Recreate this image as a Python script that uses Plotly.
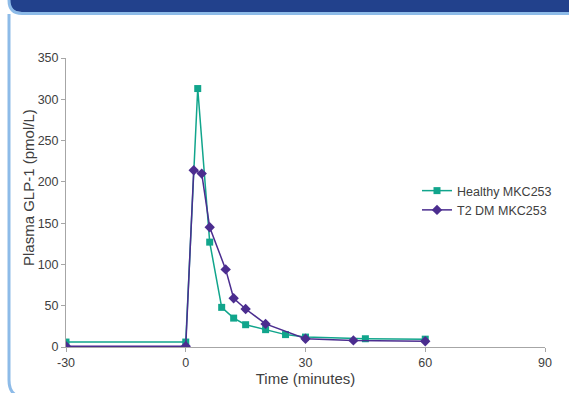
import plotly.graph_objects as go

# Data
healthy_time = [-30, 0, 3, 6, 9, 12, 15, 20, 25, 30, 45, 60]
healthy_glp1 = [6, 6, 313, 127, 48, 35, 27, 21, 15, 12, 10, 9.5]
t2dm_time = [-30, 0, 2, 4, 6, 10, 12, 15, 20, 30, 42, 60]
t2dm_glp1 = [1, 1, 214, 210, 145, 94, 59, 46, 28, 10, 8, 7]
x_ticks = [-30, 0, 30, 60, 90]
y_ticks = [0, 50, 100, 150, 200, 250, 300, 350]

W, H = 569, 393
ML, MR, MT, MB = 66, 24, 58, 46
PW = W - ML - MR
PH = H - MT - MB

def px(x):
    return (x - ML) / PW

def py(y):
    return (H - MB - y) / PH

teal = "#11A58C"
purple = "#4B2D8F"
lightblue = "#8DBBE8"
darkblue = "#22418C"

fig = go.Figure()
fig.add_trace(go.Scatter(
    x=healthy_time, y=healthy_glp1, name="Healthy MKC253", mode="lines+markers",
    line=dict(color=teal, width=1.5),
    marker=dict(symbol="square", size=7, color=teal),
))
fig.add_trace(go.Scatter(
    x=t2dm_time, y=t2dm_glp1, name="T2 DM MKC253", mode="lines+markers",
    line=dict(color=purple, width=1.5),
    marker=dict(symbol="diamond", size=8, color=purple),
))

# decorative frame
banner = (f"M {px(10)},{py(0)} L {px(569)},{py(0)} L {px(569)},{py(12)} "
          f"L {px(22)},{py(12)} Q {px(10)},{py(12)} {px(10)},{py(2)} Z")
banner_border = (f"M {px(569)},{py(13.5)} L {px(22)},{py(13.5)} "
                 f"Q {px(9)},{py(13.5)} {px(9)},{py(0)}")
left_border = (f"M {px(9)},{py(14)} L {px(9)},{py(380)} "
               f"Q {px(9)},{py(393)} {px(18)},{py(396)}")

shapes = [
    dict(type="path", xref="paper", yref="paper", path=banner,
         fillcolor=darkblue, line=dict(width=0), layer="below"),
    dict(type="path", xref="paper", yref="paper", path=banner_border,
         line=dict(color=lightblue, width=3), layer="below"),
    dict(type="path", xref="paper", yref="paper", path=left_border,
         line=dict(color=lightblue, width=3), layer="below"),
]

font_family = "Liberation Sans, Arial, sans-serif"

fig.update_layout(
    width=W, height=H, autosize=False,
    margin=dict(l=ML, r=MR, t=MT, b=MB, autoexpand=False),
    paper_bgcolor="white", plot_bgcolor="white",
    font=dict(family=font_family, size=12, color="#404040"),
    showlegend=True,
    legend=dict(x=px(417), y=py(176), xanchor="left", yanchor="top",
                font=dict(size=12.5, color="#404040"), bgcolor="rgba(0,0,0,0)",
                itemwidth=30),
    shapes=shapes,
    annotations=[dict(
        text="Plasma GLP-1 (pmol/L)", xref="paper", yref="paper",
        x=px(28), y=py(188), xanchor="center", yanchor="middle",
        textangle=-90, showarrow=False,
        font=dict(size=15, color="#404040"),
    )],
    xaxis=dict(
        range=[-30, 90], tickvals=x_ticks, ticktext=[str(v) for v in x_ticks],
        showgrid=False, zeroline=False, showline=True, linecolor="#A6A6A6",
        linewidth=1, ticks="outside", ticklen=4, tickcolor="#A6A6A6",
        tickfont=dict(size=12.5, color="#404040"),
        title=dict(text="Time (minutes)", font=dict(size=15, color="#404040"), standoff=2),
    ),
    yaxis=dict(
        range=[0, 350], tickvals=y_ticks,
        showgrid=False, zeroline=False, showline=True, linecolor="#A6A6A6",
        linewidth=1, ticks="outside", ticklen=4, tickcolor="#A6A6A6",
        tickfont=dict(size=12.5, color="#404040"),
    ),
)

fig.write_html("out.html", config={"responsive": False})
